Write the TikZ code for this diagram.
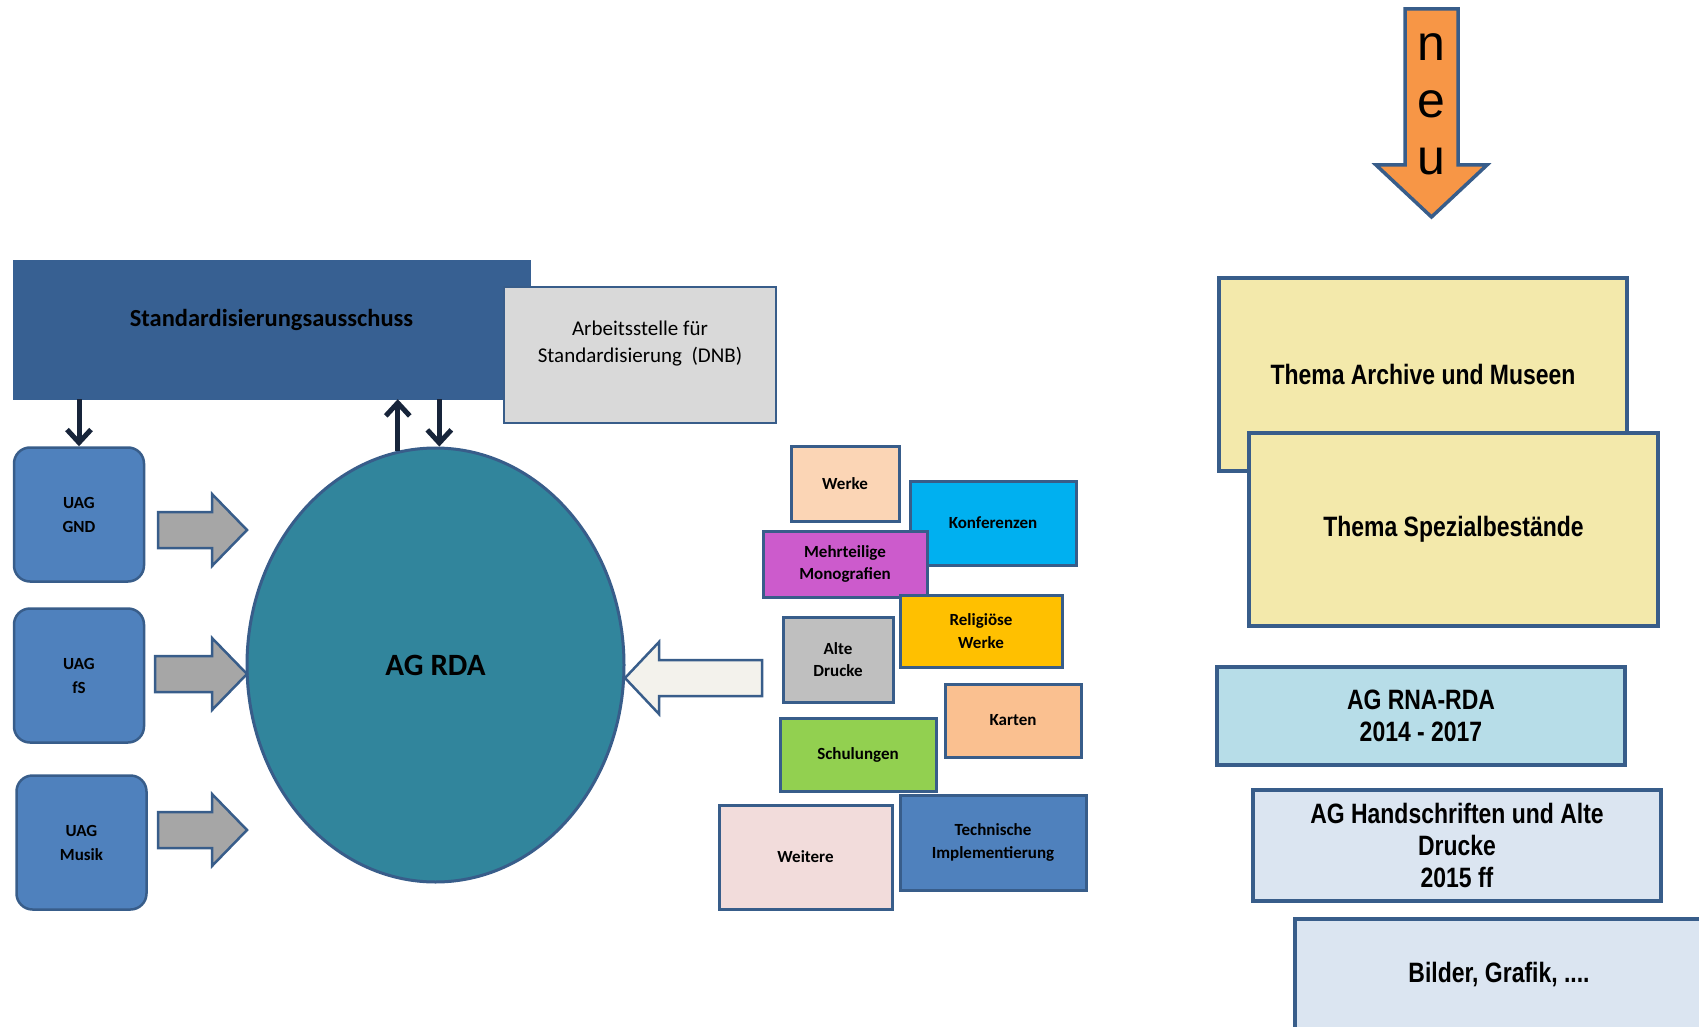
\documentclass[tikz,border=0pt]{standalone}
\usepackage{fontspec}
\setmainfont{Carlito}
\newfontfamily\narrowfont{Liberation Sans}[FakeStretch=0.82]
\newfontfamily\arialfont{Liberation Sans}
\usetikzlibrary{shapes.geometric,arrows.meta}
\definecolor{boxline}{HTML}{385D8A}
\definecolor{stdblue}{HTML}{376092}
\definecolor{arbgrey}{HTML}{D9D9D9}
\definecolor{uagblue}{HTML}{4F81BD}
\definecolor{rdateal}{HTML}{31859C}
\definecolor{arrowgrey}{HTML}{A6A6A6}
\definecolor{offwhite}{HTML}{F3F2EC}
\definecolor{linknavy}{HTML}{17243A}
\definecolor{werkecol}{HTML}{FBD5B5}
\definecolor{konfcol}{HTML}{00B0F0}
\definecolor{mehrcol}{HTML}{CC5BCC}
\definecolor{religcol}{HTML}{FFC000}
\definecolor{altecol}{HTML}{BFBFBF}
\definecolor{kartencol}{HTML}{FAC090}
\definecolor{schulcol}{HTML}{92D050}
\definecolor{weiterecol}{HTML}{F2DCDB}
\definecolor{neucol}{HTML}{F79646}
\definecolor{themecol}{HTML}{F3E9AB}
\definecolor{rnacol}{HTML}{B7DDE8}
\definecolor{handcol}{HTML}{DBE5F1}
\tikzset{
    plain-box/.style = {draw=boxline, line width=3pt, rectangle, inner sep=2pt, align=center, font=\bfseries\fontsize{17}{22.5}\selectfont},
    uag-box/.style = {draw=boxline, fill=uagblue, line width=2.5pt, rectangle, rounded corners=16pt, minimum width=130pt, minimum height=134pt, align=center, font=\bfseries\fontsize{17}{24}\selectfont},
    topic-box/.style = {draw=boxline, line width=3.5pt, rectangle, minimum width=408pt, align=center, font=\narrowfont\bfseries\fontsize{28}{32}\selectfont},
    block-arrow/.style = {draw=boxline, fill=arrowgrey, line width=2.5pt, line join=miter},
    link/.style = {draw=linknavy, line width=5pt, -{Straight Barb[length=13pt,width=24pt,line width=5pt]}},
}

\begin{document}
\begin{tikzpicture}[x=1pt, y=-1pt]
\useasboundingbox (0,0) rectangle (1699,1027);
% committee and office
\node[rectangle, draw=stdblue, fill=stdblue, minimum width=517pt, minimum height=139pt] (std) at (271.5,329.5) {};
\node[font=\bfseries\fontsize{24.5}{28}\selectfont] (std-title) at ([yshift=9.5pt]std.center) {Standardisierungsausschuss};
\node[plain-box, fill=arbgrey, line width=2.5pt, minimum width=272pt, minimum height=136pt] (arb) at (640,355) {};
\node[align=center, font=\fontsize{21}{27}\selectfont] (arb-title) at ([yshift=11pt]arb.center) {Arbeitsstelle für\\Standardisierung\ \ (DNB)};

% sub groups
\node[uag-box] (gnd) at (79,514.5) {UAG\\GND};
\node[uag-box] (fs) at (79,675.5) {UAG\\fS};
\node[uag-box] (musik) at (81.5,842.5) {UAG\\Musik};

\node[ellipse, draw=boxline, fill=rdateal, line width=3pt, minimum width=377pt, minimum height=434pt, inner sep=0pt, font=\bfseries\fontsize{31}{36}\selectfont] (rda) at (435.5,665) {AG RDA};

\draw[link] (gnd.north |- std.south) -- (gnd.north);
\draw[link] (rda.100) -- (rda.100 |- std.south);
\draw[link] (rda.89 |- std.south) -- (rda.89);

\foreach \y/\x in {530/158, 674/155, 830/158}
    \draw[block-arrow] (\x,\y-18) -- (212,\y-18) -- (212,\y-36) -- (247,\y) -- (212,\y+36) -- (212,\y+18) -- (\x,\y+18) -- cycle;
\draw[block-arrow, fill=offwhite] (762,660) -- (659,660) -- (659,642) -- (625,678) -- (659,714) -- (659,696) -- (762,696) -- cycle;

% topics
\node[plain-box, fill=werkecol, minimum width=108pt, minimum height=75pt] (werke) at (845,483.5) {Werke};
\node[plain-box, fill=konfcol, minimum width=166pt, minimum height=84pt] (konf) at (993,523) {Konferenzen};
\node[plain-box, fill=mehrcol, minimum width=164pt, minimum height=66pt] (mehr) at (845,564) {Mehrteilige\\Monografien};
\node[plain-box, fill=religcol, minimum width=162pt, minimum height=72pt] (relig) at (981,631) {Religiöse\\Werke};
\node[plain-box, fill=altecol, minimum width=110pt, minimum height=85pt] (alte) at (838,659.5) {Alte\\Drucke};
\node[plain-box, fill=kartencol, minimum width=136pt, minimum height=73pt] (karten) at (1013,720.5) {Karten};
\node[plain-box, fill=schulcol, minimum width=156pt, minimum height=73pt] (schul) at (858,754.5) {Schulungen};
\node[plain-box, fill=weiterecol, minimum width=173pt, minimum height=104pt] (weitere) at (805.5,857) {Weitere};
\node[plain-box, fill=uagblue, minimum width=186pt, minimum height=95pt] (techn) at (993,842.5) {Technische\\Implementierung};

% new groups
\draw[block-arrow, fill=neucol, line width=3.5pt] (1405,9) -- (1458,9) -- (1458,165) -- (1487,165) -- (1431.5,217) -- (1376,165) -- (1405,165) -- cycle;
\node[align=center, font=\arialfont\fontsize{50}{57}\selectfont] (neu) at (1431.5,104) {n\\e\\u};

\node[topic-box, fill=themecol, minimum height=193pt] (archive) at (1423,374.5) {Thema Archive und Museen};
\node[topic-box, fill=themecol, minimum width=409pt, minimum height=193pt] (spezial) at (1453.5,529.5) {Thema Spezialbestände};
\node[topic-box, fill=rnacol, minimum height=98pt] (rna) at (1421,716) {AG RNA-RDA\\2014 - 2017};
\node[topic-box, fill=handcol, minimum height=111pt] (hand) at (1457,845.5) {AG Handschriften und Alte\\Drucke\\2015 ff};
\node[topic-box, fill=handcol, minimum height=111pt] (bilder) at (1499,974.5) {Bilder, Grafik, ....};
\end{tikzpicture}
\end{document}
